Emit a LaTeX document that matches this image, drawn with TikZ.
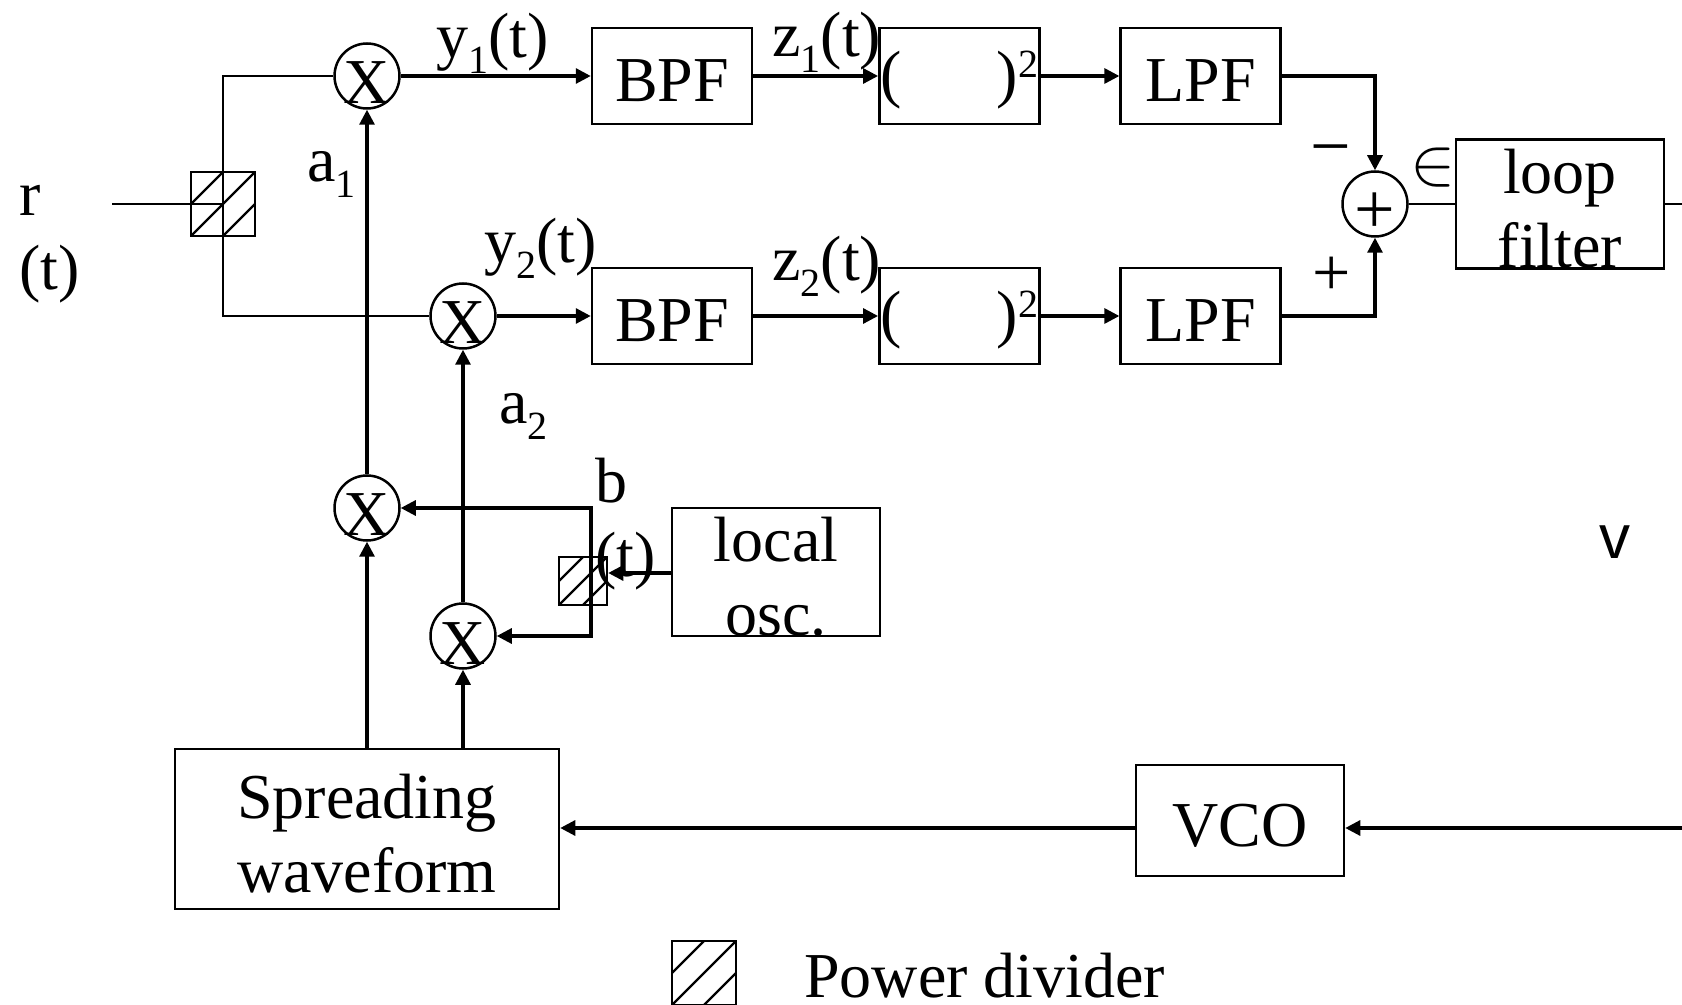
\documentclass[tikz,border=0pt]{standalone}
\usepackage{fontspec}
\setmainfont{Liberation Serif}
\usetikzlibrary{arrows.meta,positioning}

\newcommand{\lowidx}[1]{\raisebox{-8pt}{\fontsize{20}{20}\selectfont #1}}
\newcommand{\highidx}[1]{\raisebox{9pt}{\fontsize{20}{20}\selectfont #1}}
\newcommand{\lowglyph}[2]{\raisebox{#1}[0pt][0pt]{#2}}
\newcommand{\tallstrut}{\rule{0pt}{27pt}}

\begin{document}
\begin{tikzpicture}[
    x=0.5pt, y=-0.5pt,
    >={Triangle[length=7.5pt,width=7.5pt]},
    every node/.style={font=\fontsize{32}{37}\selectfont},
    block/.style={
        draw, line width=1.25pt, inner sep=0pt,
        minimum width=80pt, minimum height=48pt,
        align=center
    },
    tallblock/.style={
        block, inner ysep=-3pt
    },
    mixer/.style={
        circle, draw, line width=1.25pt,
        minimum size=32.5pt, inner sep=0pt
    },
    divider/.style={
        draw, line width=1.25pt, inner sep=0pt,
        path picture={
            \draw[line width=1.1pt]
                (path picture bounding box.south west) -- (path picture bounding box.north east)
                (path picture bounding box.west) -- (path picture bounding box.north)
                (path picture bounding box.south) -- (path picture bounding box.east);
        }
    },
    lab/.style={inner sep=0pt},
    wire/.style={line width=1.45pt},
    arr/.style={->, line width=1.55pt}
]
    \useasboundingbox (0,0) rectangle (1682,1005);

    % Mixers and summer
    \node[mixer] (M1) at (367,76)  {\lowglyph{-14pt}{X}};
    \node[mixer] (M2) at (463,316) {\lowglyph{-14pt}{X}};
    \node[mixer] (M3) at (367,508) {\lowglyph{-14pt}{X}};
    \node[mixer] (M4) at (463,636) {\lowglyph{-14pt}{X}};
    \node[mixer] (S)  at (1375,204) {\fontsize{36}{36}\selectfont\lowglyph{-14.7pt}{+}};

    % Upper branch
    \node[block] (BPF1) [right=95pt of M1] {\rule{0pt}{26pt}BPF};
    \node[block] (SQ1)  [right=62.4pt of BPF1] {\rule{0pt}{26pt}(\hspace{47.5pt})\highidx{2}};
    \node[block] (LPF1) [right=39.4pt of SQ1] {\rule{0pt}{26pt}LPF};

    % Lower branch
    \node[block] (BPF2) [right=47pt of M2] {\rule{0pt}{26pt}BPF};
    \node[block] (SQ2)  [right=62.4pt of BPF2] {\rule{0pt}{26pt}(\hspace{47.5pt})\highidx{2}};
    \node[block] (LPF2) [right=39.4pt of SQ2] {\rule{0pt}{26pt}LPF};

    % Loop and oscillators
    \node[tallblock, minimum width=104pt, minimum height=64.5pt] (LF) [right=23pt of S] {\tallstrut loop\\filter};
    \node[tallblock, minimum width=104pt, minimum height=64pt] (LO) at (776,572) {\tallstrut local\\osc.};
    \node[block, minimum width=104pt, minimum height=55.5pt] (VCO) at (1240,820.5) {\rule{0pt}{26pt}VCO};
    \node[tallblock, minimum width=192pt, minimum height=80pt] (SW) at (367,829) {\tallstrut Spreading\\waveform};

    % Power dividers
    \node[divider, minimum size=32pt] (PD1) at (223,204) {};
    \node[divider, minimum size=24pt] (PD2) at (583,581) {};
    \node[divider, minimum size=32pt] (PD3) at (704,973) {};

    % Free ends and tap
    \coordinate (rin) at (112,204);
    \coordinate (lfout) at (1682,204);
    \coordinate (vin) at (1682,828);
    \coordinate (tap) at (591,573);

    % Labels
    \node[lab, anchor=north west, align=left] (rt) at (19,185) {r\\(t)};
    \node[lab, anchor=base west] (y1) at (436,58)  {y\lowidx{1}(t)};
    \node[lab, anchor=base west] (y2) at (484,263) {y\lowidx{2}(t)};
    \node[lab, anchor=base west] (z1) at (772,57)  {z\lowidx{1}(t)};
    \node[lab, anchor=base west] (z2) at (772,281) {z\lowidx{2}(t)};
    \node[lab, anchor=base west] (a1) at (307,182) {a\lowidx{1}};
    \node[lab, anchor=base west] (a2) at (499,424) {a\lowidx{2}};
    \node[lab, anchor=north west, align=left] (bt) at (595,458) {b\\(t)};
    \node[lab, font=\fontsize{36}{36}\selectfont] (minus) at (1331,158) {−};
    \node[lab, font=\fontsize{34}{34}\selectfont] (plus)  at (1332,276) {+};
    \node[lab, scale=1.36] (err) at (1433,168) {$\in$};
    \node[lab, anchor=base, font=\fontsize{31}{31}\selectfont\fontspec{Liberation Sans}] (v) at (1615,559) {v};
    \node[lab, anchor=base west] (pdtext) at (804,997) {Power divider};

    % Edges
    \draw[arr] (M1) -- (BPF1);
    \draw[arr] (BPF1) -- (SQ1);
    \draw[arr] (SQ1) -- (LPF1);
    \draw[arr] (M2) -- (BPF2);
    \draw[arr] (BPF2) -- (SQ2);
    \draw[arr] (SQ2) -- (LPF2);
    \draw[arr] (LPF1.east) -| (S.north);
    \draw[arr] (LPF2.east) -| (S.south);
    \draw[wire] (S) -- (LF);
    \draw[wire] (LF) -- (lfout);
    \draw[wire] (rin) -- (PD1.center);
    \draw[wire] (M1.west) -| (PD1.center) |- (M2.west);
    \draw[arr] (M3) -- (M1);
    \draw[arr] (M4) -- (M2);
    \draw[arr] (SW.north) -- (M3);
    \draw[arr] (M4 |- SW.north) -- (M4);
    \draw[arr] (tap) |- (M3.east);
    \draw[arr] (tap) |- (M4.east);
    \draw[arr] (LO.west |- tap) -- (PD2.east |- tap);
    \draw[arr] (vin) -- (vin -| VCO.east);
    \draw[arr] (VCO.west |- vin) -- (vin -| SW.east);

\end{tikzpicture}
\end{document}
